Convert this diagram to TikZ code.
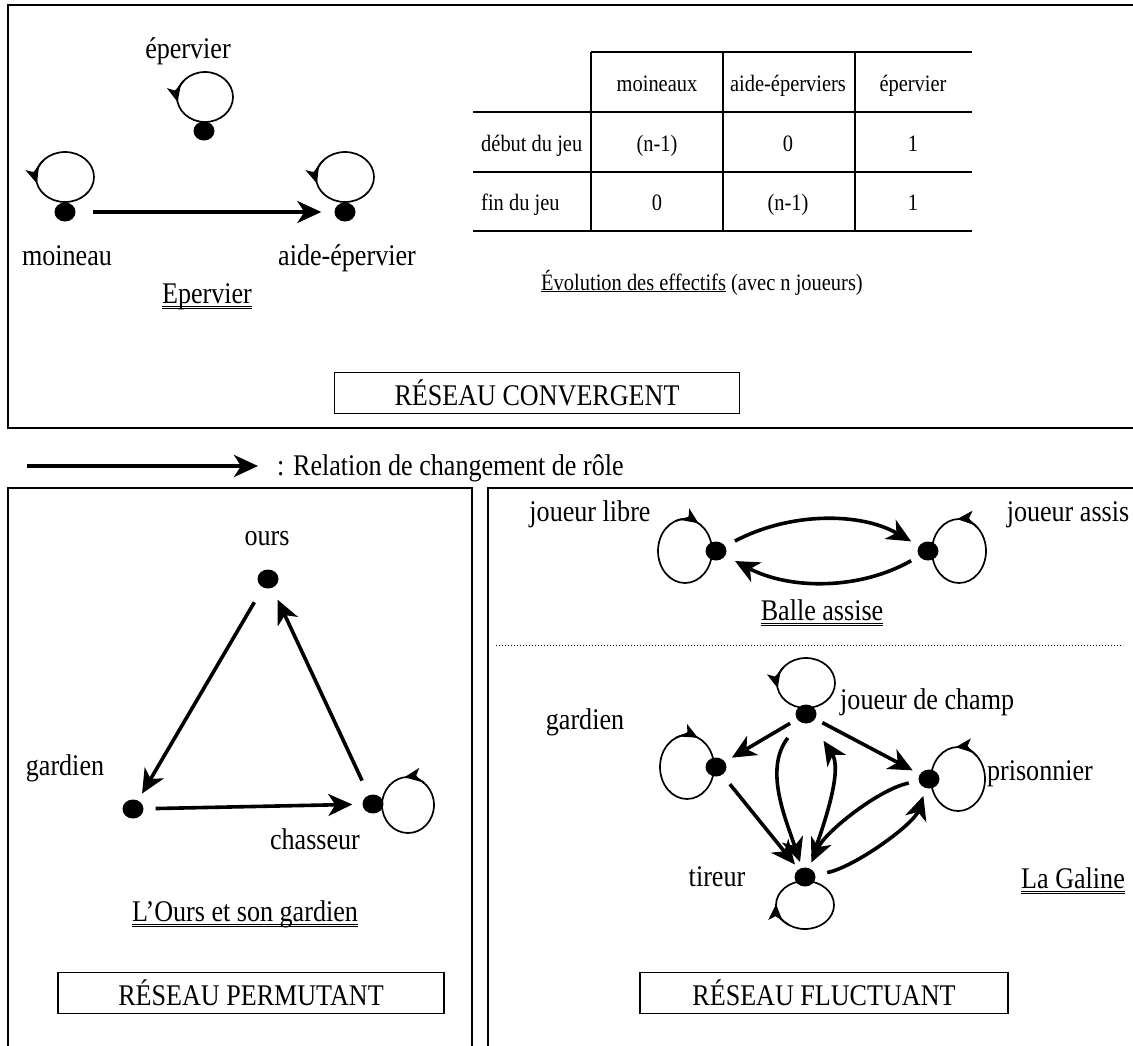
\documentclass[tikz,border=0pt]{standalone}
\usepackage{fontspec}
\setmainfont[FakeStretch=0.87]{Liberation Serif}
\usetikzlibrary{arrows.meta,shapes.geometric}
\newcommand\myloop[6]{%
  \draw[loopline] (#1,#2) ellipse[x radius=#3, y radius=#4];
  \draw[looptip] (#1,#2) ++(#5:#3 and #4) arc[start angle=#5, end angle=#6, x radius=#3, y radius=#4];
}
\newcommand\dblul[1]{%
  \draw[line width=0.8pt] ([yshift=-3pt]#1.base west) -- ([yshift=-3pt]#1.base east);
  \draw[line width=0.8pt] ([yshift=-5.2pt]#1.base west) -- ([yshift=-5.2pt]#1.base east);
}
\begin{document}
\begin{tikzpicture}[x=1pt,y=-1pt,
  lbl/.style={font=\fontsize{30}{34}\selectfont, inner sep=0pt, anchor=base},
  tbl/.style={font=\fontsize{23.5}{27}\selectfont, inner sep=0pt, anchor=base},
  dot/.style={ellipse, fill=black, minimum width=21pt, minimum height=19pt, inner sep=0pt},
  frame/.style={line width=1.8pt},
  tline/.style={line width=2pt},
  rel/.style={line width=3.6pt, -{Stealth[length=24pt,width=22pt,inset=7pt]}},
  loopline/.style={line width=1.7pt},
  looptip/.style={line width=1.7pt, -{Stealth[length=16pt,width=14pt,inset=4pt]}},
  titlebox/.style={draw, line width=1.6pt, font=\fontsize{30}{34}\selectfont, inner sep=0pt, minimum height=41pt}
]
\useasboundingbox (0,0) rectangle (1133,1045);
\clip (0,0) rectangle (1133,1045);
\fill[white] (0,0) rectangle (1133,1045);

% ---------- frames ----------
\draw[frame] (8,5) rectangle (1145,428);
\draw[frame] (8,488) rectangle (472,1060);
\draw[frame] (488,488) rectangle (1145,1060);

% ---------- Epervier ----------
\node[lbl] (lep) at (188,58) {épervier};
\myloop{205}{97}{28}{25}{220}{168}
\node[dot] (ep) at (204,131) {};
\myloop{65}{177}{29}{25}{220}{165}
\node[dot] (moi) at (65,212) {};
\myloop{345}{177}{29}{25}{220}{165}
\node[dot] (aide) at (345,212) {};
\draw[rel, shorten <=17pt, shorten >=13pt] (moi) -- (aide);
\node[lbl] (lmoi) at (67,265) {moineau};
\node[lbl] (laide) at (347,265) {aide-épervier};
\node[lbl] (tep) at (207,303) {Epervier};
\dblul{tep}

% ---------- table ----------
\draw[tline] (591,52) -- (972,52);
\draw[tline] (473,112) -- (972,112);
\draw[tline] (473,172) -- (972,172);
\draw[tline] (473,231) -- (972,231);
\draw[tline] (591,52) -- (591,231);
\draw[tline] (723,52) -- (723,231);
\draw[tline] (855,52) -- (855,231);
\node[tbl] (h1) at (657,91) {moineaux};
\node[tbl] (h2) at (788,91) {aide-éperviers};
\node[tbl] (h3) at (913,91) {épervier};
\node[tbl, anchor=base west] (r1) at (481,151) {début du jeu};
\node[tbl] (c11) at (657,151) {(n-1)};
\node[tbl] (c12) at (788,151) {0};
\node[tbl] (c13) at (913,151) {1};
\node[tbl, anchor=base west] (r2) at (481,210) {fin du jeu};
\node[tbl] (c21) at (657,210) {0};
\node[tbl] (c22) at (788,210) {(n-1)};
\node[tbl] (c23) at (913,210) {1};
\node[tbl] (evo) at (702,290) {\underline{Évolution des effectifs} (avec n joueurs)};

\node[titlebox, minimum width=405pt] (rc) at (537,393) {RÉSEAU CONVERGENT};

% ---------- legend ----------
\coordinate (la) at (27,466);
\coordinate (lb) at (258,466);
\draw[rel] (la) -- (lb);
\node[lbl, anchor=base west] (leg) at (277,475) {: Relation de changement de rôle};

% ---------- L'Ours ----------
\node[lbl] (lours) at (267,545) {ours};
\node[dot] (ours) at (268,579) {};
\node[lbl] (lgar) at (65,775) {gardien};
\node[dot] (gar) at (133,809) {};
\myloop{408}{805}{26}{28}{310}{262}
\node[dot] (cha) at (373,804) {};
\node[lbl] (lcha) at (315,849) {chasseur};
\draw[rel, shorten <=17pt, shorten >=8pt] (ours) -- (gar);
\draw[rel, shorten <=16pt, shorten >=13pt] (cha) -- (ours);
\draw[rel, shorten <=12pt, shorten >=10pt] (gar) -- (cha);
\node[lbl] (tours) at (245,921) {L’Ours et son gardien};
\dblul{tours}
\node[titlebox, minimum width=386pt] (rp) at (251,993) {RÉSEAU PERMUTANT};

% ---------- Balle assise ----------
\node[lbl] (llib) at (590,521) {joueur libre};
\node[lbl] (lass) at (1068,521) {joueur assis};
\myloop{685}{551}{27}{32}{252}{300}
\node[dot] (lib) at (716,551) {};
\myloop{959}{551}{27}{32}{315}{266}
\node[dot] (ass) at (928,551) {};
\draw[rel, shorten <=11pt, shorten >=9pt] (lib) .. controls +(74,-39) and +(-68,-39) .. (ass);
\draw[rel, shorten <=9pt, shorten >=11pt] (ass) .. controls +(-68,39) and +(74,39) .. (lib);
\node[lbl] (tba) at (822,620) {Balle assise};
\dblul{tba}
\draw[line width=1pt, dotted] (496,645) -- (1123,645);

% ---------- La Galine ----------
\myloop{806}{683}{29}{25}{220}{168}
\node[dot] (jc) at (806,714) {};
\node[lbl, anchor=base west] (ljc) at (840,709) {joueur de champ};
\myloop{687}{767}{27}{32}{245}{294}
\node[dot] (gdn) at (716,767) {};
\node[lbl] (lgdn) at (585,729) {gardien};
\myloop{958}{779}{27}{32}{315}{265}
\node[dot] (pri) at (929,779) {};
\node[lbl] (lpri) at (1040,780) {prisonnier};
\myloop{805}{905}{29}{24}{125}{182}
\node[dot] (tir) at (805,877) {};
\node[lbl] (ltir) at (717,886) {tireur};
\node[lbl] (tga) at (1073,888) {La Galine};
\dblul{tga}
\draw[rel, shorten <=8pt, shorten >=8pt] (jc) -- (gdn);
\draw[rel, shorten <=8pt, shorten >=8pt] (jc) -- (pri);
\draw[rel, shorten <=12pt, shorten >=6pt] (gdn) -- (tir);
\draw[rel, shorten <=20pt, shorten >=6pt] (jc) .. controls +(-42,55) and +(-20,-60) .. (tir);
\draw[rel, shorten <=12pt, shorten >=22pt] (tir) .. controls +(22,-60) and +(36,55) .. (jc);
\draw[rel, shorten <=10pt, shorten >=6pt] (pri) .. controls +(-50,10) and +(20,-45) .. (tir);
\draw[rel, shorten <=12pt, shorten >=8pt] (tir) .. controls +(50,-10) and +(-15,45) .. (pri);
\node[titlebox, minimum width=368pt] (rf) at (824,993) {RÉSEAU FLUCTUANT};
\end{tikzpicture}
\end{document}
